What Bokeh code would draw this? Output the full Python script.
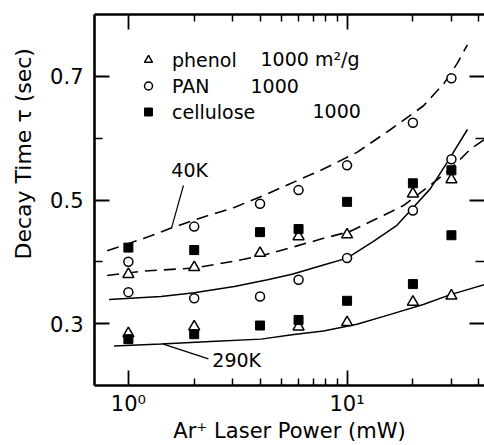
from bokeh.plotting import figure
from bokeh.models import (FixedTicker, LogAxis, LinearAxis, Label, Legend, LegendItem,
                          Range1d, Title)
from bokeh.embed import file_html
from bokeh.resources import INLINE

# ---------------- data ----------------
power = [1, 2, 4, 6, 10, 20, 30]                    # Ar+ laser power (mW)
power_phenol_290k = [1, 2, 6, 10, 20, 30]

phenol_40k = [0.380, 0.391, 0.414, 0.441, 0.444, 0.510, 0.533]
pan_40k = [0.400, 0.457, 0.494, 0.516, 0.556, 0.625, 0.697]
cellulose_40k = [0.423, 0.419, 0.448, 0.453, 0.497, 0.527, 0.548]

phenol_290k = [0.284, 0.295, 0.295, 0.302, 0.335, 0.345]
pan_290k = [0.351, 0.341, 0.344, 0.371, 0.406, 0.483, 0.566]
cellulose_290k = [0.275, 0.283, 0.297, 0.306, 0.337, 0.364, 0.443]

# guide curves
curve_a_x = [0.8, 1.18, 1.58, 2.14, 3.05, 4.33, 5.46, 7.8, 11.1, 15.8, 22.3, 27.8, 31.9, 35.5]
curve_a_y = [0.418, 0.438, 0.455, 0.471, 0.488, 0.510, 0.526, 0.550, 0.577, 0.614, 0.652, 0.689, 0.721, 0.751]
curve_b_x = [0.8, 1.18, 2.0, 3.05, 4.18, 5.8, 7.8, 10.3, 13.7, 18.1, 24.0, 29.7, 36.6, 42.5]
curve_b_y = [0.378, 0.385, 0.390, 0.401, 0.411, 0.425, 0.438, 0.449, 0.470, 0.491, 0.524, 0.550, 0.582, 0.598]
curve_c_x = [0.816, 1.41, 2.0, 3.05, 4.33, 5.6, 7.8, 10, 13.2, 16.9, 19.5, 24.0, 28.7, 35.5]
curve_c_y = [0.339, 0.344, 0.350, 0.360, 0.371, 0.380, 0.395, 0.406, 0.433, 0.459, 0.483, 0.518, 0.561, 0.614]
curve_d_x = [0.86, 1.41, 2.38, 4.04, 5.6, 7.8, 11.1, 15.8, 22.3, 29.7, 42.4]
curve_d_y = [0.264, 0.267, 0.271, 0.275, 0.282, 0.288, 0.299, 0.315, 0.331, 0.347, 0.363]

x_major = [1, 10]
x_minor = [2, 3, 4, 5, 6, 7, 8, 9, 20, 30, 40]
x_labels = {1: "10\u2070", 10: "10\u00b9"}
y_major = [0.3, 0.5, 0.7]
y_minor = [0.4, 0.6]

FONT = "DejaVu Sans"
INK = "black"

p = figure(width=484, height=445, x_axis_type="log",
           x_range=Range1d(0.7, 42.5), y_range=Range1d(0.2, 0.8),
           output_backend="svg", toolbar_location=None,
           min_border_left=94, min_border_right=0, min_border_top=14, min_border_bottom=57)
p.xgrid.visible = False
p.ygrid.visible = False
p.outline_line_color = None
p.background_fill_color = "white"
p.border_fill_color = "white"


def style_axis(ax, major, minor, labels=True, line=True):
    ax.ticker = FixedTicker(ticks=major, minor_ticks=minor)
    ax.major_tick_in = 15
    ax.major_tick_out = 0
    ax.minor_tick_in = 7
    ax.minor_tick_out = 0
    ax.major_tick_line_width = 1.8
    ax.minor_tick_line_width = 1.5
    ax.major_tick_line_color = INK
    ax.minor_tick_line_color = INK
    ax.axis_line_width = 2.6
    ax.axis_line_color = INK if line else None
    if labels:
        ax.major_label_text_font = FONT
        ax.major_label_text_font_size = "21px"
        ax.major_label_text_color = INK
    else:
        ax.major_label_text_font_size = "1px"
        ax.major_label_text_alpha = 0
        ax.major_label_standoff = 0


xb = p.xaxis[0]
style_axis(xb, x_major, x_minor)
xb.major_label_overrides = x_labels
xb.major_label_standoff = 6
xb.axis_label = "Ar\u207a Laser Power (mW)"
xb.axis_label_standoff = 0
xb.axis_label_text_font = FONT
xb.axis_label_text_font_size = "21px"
xb.axis_label_text_font_style = "normal"
xb.axis_label_text_color = INK

yl = p.yaxis[0]
style_axis(yl, y_major, y_minor)
yl.major_label_standoff = 11
yl.minor_tick_in = 8

xt = LogAxis()
style_axis(xt, x_major, x_minor, labels=False)
p.add_layout(xt, "above")

yr = LinearAxis()
style_axis(yr, y_major, y_minor, labels=False, line=False)
yr.minor_tick_in = 9
p.add_layout(yr, "right")

# y-axis title as a side title (sits above the frame centre, as in the original)
ytitle = Title(text="Decay Time \u03c4 (sec)", align="left", offset=126,
               vertical_align="top",
               text_font=FONT, text_font_size="22px", text_font_style="normal",
               text_color=INK, standoff=19)
p.add_layout(ytitle, "left")

# guide curves
dash = "12 7"
p.line(curve_a_x, curve_a_y, line_color=INK, line_width=1.6, line_dash=dash)
p.line(curve_b_x, curve_b_y, line_color=INK, line_width=1.6, line_dash=dash)
p.line(curve_c_x, curve_c_y, line_color=INK, line_width=1.5)
p.line(curve_d_x, curve_d_y, line_color=INK, line_width=1.5)

# markers
tri_kw = dict(marker="triangle", size=11, line_color=INK, fill_color="white", line_width=1.5)
cir_kw = dict(marker="circle", size=9, line_color=INK, fill_color="white", line_width=1.5)
sq_kw = dict(marker="square", size=9, line_color=INK, fill_color=INK, line_width=1)

r_tri = p.scatter(power, phenol_40k, **tri_kw)
p.scatter(power_phenol_290k, phenol_290k, **tri_kw)
r_cir = p.scatter(power, pan_40k, **cir_kw)
p.scatter(power, pan_290k, **cir_kw)
r_sq = p.scatter(power, cellulose_40k, **sq_kw)
p.scatter(power, cellulose_290k, **sq_kw)

# legend
legend = Legend(items=[LegendItem(label="phenol", renderers=[r_tri]),
                       LegendItem(label="PAN", renderers=[r_cir]),
                       LegendItem(label="cellulose", renderers=[r_sq])],
                location=(44, 261), orientation="vertical",
                padding=0, margin=0, spacing=1,
                glyph_width=20, glyph_height=25, label_height=25, label_standoff=14,
                label_text_font=FONT, label_text_font_size="19px", label_text_color=INK,
                border_line_color=None, background_fill_alpha=0)
p.add_layout(legend)

lab_kw = dict(x_units="screen", y_units="screen", text_font=FONT, text_color=INK,
              text_baseline="middle")
p.add_layout(Label(x=166, y=327, text="1000 m\u00b2/g", text_font_size="19px", **lab_kw))
p.add_layout(Label(x=156, y=300, text="1000", text_font_size="19px", **lab_kw))
p.add_layout(Label(x=218, y=275, text="1000", text_font_size="19px", **lab_kw))

# curve annotations
p.add_layout(Label(x=1.906, y=0.548, text="40K", text_font=FONT, text_font_size="19px",
                   text_color=INK, text_align="center", text_baseline="middle"))
p.segment(x0=[1.786], y0=[0.5235], x1=[1.573], y1=[0.454], line_color=INK, line_width=1.2)
p.add_layout(Label(x=2.42, y=0.2415, text="290K", text_font=FONT, text_font_size="19px",
                   text_color=INK, text_align="left", text_baseline="middle"))
p.segment(x0=[1.446], y0=[0.267], x1=[2.324], y1=[0.243], line_color=INK, line_width=1.2)

open("out.html", "w").write(file_html(p, INLINE))
